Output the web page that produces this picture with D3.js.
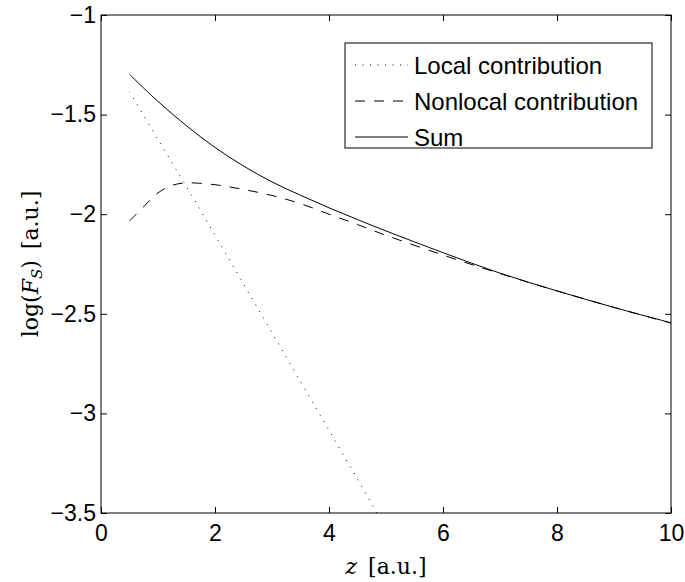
<!DOCTYPE html>
<html>
<head>
<meta charset="UTF-8">
<script src="https://d3js.org/d3.v7.min.js"></script>
<style>
  body { margin: 0; background: #fff; }
  .tick text { font-family: "Liberation Sans", Arial, sans-serif; font-size: 23px; }
  .math { font-family: "DejaVu Serif", "Liberation Serif", serif; font-size: 22px; }
  .legend text { font-family: "Liberation Sans", Arial, sans-serif; font-size: 24px; }
</style>
</head>
<body>
<svg id="chart" width="685" height="582"></svg>
<script>
// valeurs
const zLocal = [0.5, 1, 1.5, 2, 2.5, 3, 3.5, 4, 4.5, 4.85];
const local  = [-1.385, -1.625, -1.862, -2.105, -2.35, -2.595, -2.84, -3.085, -3.33, -3.505];

const zNonlocal = [0.5, 0.75, 1, 1.25, 1.5, 2, 2.5, 3, 3.5, 4, 4.5, 5, 6, 7, 8, 9, 10];
const nonlocal  = [-2.034, -1.962, -1.893, -1.855, -1.843, -1.852, -1.876, -1.906, -1.947, -2.0, -2.052, -2.106, -2.205, -2.298, -2.385, -2.468, -2.547];

const zSum = [0.5, 1, 1.5, 2, 2.5, 3, 3.5, 4, 4.5, 5, 6, 7, 8, 9, 10];
const sum  = [-1.298, -1.434, -1.556, -1.665, -1.758, -1.838, -1.905, -1.968, -2.027, -2.084, -2.193, -2.296, -2.385, -2.468, -2.545];

const xTicks = [0, 2, 4, 6, 8, 10];
const yTicks = [-1, -1.5, -2, -2.5, -3, -3.5];

const legendLabels = ["Local contribution", "Nonlocal contribution", "Sum"];
const legendDash = ["1,6.5", "10,9", null];

const mLeft = 101, mRight = 671, mTop = 15, mBottom = 513;

const svg = d3.select("#chart");
const x = d3.scaleLinear().domain([0, 10]).range([mLeft, mRight]);
const y = d3.scaleLinear().domain([-3.5, -1]).range([mBottom, mTop]);

svg.append("defs").append("clipPath").attr("id", "clip")
   .append("rect").attr("x", mLeft).attr("y", mTop)
   .attr("width", mRight - mLeft).attr("height", mBottom - mTop);

// axes (ticks vers l'intérieur)
const tickFmt = d => String(d).replace("-", "\u2212");
svg.append("g").attr("transform", `translate(0,${mBottom})`)
   .call(d3.axisBottom(x).tickValues(xTicks).tickSize(-6).tickPadding(10).tickFormat(tickFmt))
   .call(g => g.select(".domain").remove())
   .call(g => g.selectAll("text").attr("dy", "0.71em").attr("y", 12));
svg.append("g").attr("transform", `translate(${mLeft},0)`)
   .call(d3.axisLeft(y).tickValues(yTicks).tickSize(-6).tickPadding(5).tickFormat(tickFmt))
   .call(g => g.select(".domain").remove());
svg.append("g").attr("transform", `translate(0,${mTop})`)
   .call(d3.axisTop(x).tickValues(xTicks).tickSize(-6).tickFormat(""))
   .call(g => g.select(".domain").remove());
svg.append("g").attr("transform", `translate(${mRight},0)`)
   .call(d3.axisRight(y).tickValues(yTicks).tickSize(-6).tickFormat(""))
   .call(g => g.select(".domain").remove());
svg.selectAll(".tick line").attr("stroke", "#000");
svg.selectAll(".tick text").attr("fill", "#000");

svg.append("rect").attr("x", mLeft).attr("y", mTop)
   .attr("width", mRight - mLeft).attr("height", mBottom - mTop)
   .attr("fill", "none").attr("stroke", "#000").attr("stroke-width", 1);

// courbes
const line = d3.line().x(d => x(d[0])).y(d => y(d[1])).curve(d3.curveCatmullRom);
const series = [
  { z: zLocal, v: local, dash: legendDash[0] },
  { z: zNonlocal, v: nonlocal, dash: legendDash[1] },
  { z: zSum, v: sum, dash: legendDash[2] }
];
series.forEach(s => {
  svg.append("path")
     .datum(s.z.map((z, i) => [z, s.v[i]]))
     .attr("d", line)
     .attr("clip-path", "url(#clip)")
     .attr("fill", "none")
     .attr("stroke", "#000")
     .attr("stroke-width", 1)
     .attr("stroke-dasharray", s.dash);
});

// légende
const lg = svg.append("g").attr("class", "legend");
lg.append("rect").attr("x", 345).attr("y", 43).attr("width", 307).attr("height", 105)
  .attr("fill", "#fff").attr("stroke", "#000").attr("stroke-width", 1);
legendLabels.forEach((t, i) => {
  const yy = 65 + i * 36;
  lg.append("line").attr("x1", 355).attr("x2", 408).attr("y1", yy).attr("y2", yy)
    .attr("stroke", "#000").attr("stroke-width", 1).attr("stroke-dasharray", legendDash[i]);
  lg.append("text").attr("x", 414).attr("y", yy).attr("dy", "0.36em").text(t);
});

// titres des axes
const xl = svg.append("text").attr("class", "math")
   .attr("x", (mLeft + mRight) / 2).attr("y", 574).attr("text-anchor", "middle");
xl.append("tspan").attr("font-style", "italic").text("z");
xl.append("tspan").text("\u2002[a.u.]");

const yl = svg.append("text").attr("class", "math")
   .attr("transform", `translate(38,${(mTop + mBottom) / 2}) rotate(-90)`)
   .attr("text-anchor", "middle");
yl.append("tspan").text("log(");
yl.append("tspan").attr("font-style", "italic").text("F");
yl.append("tspan").attr("font-style", "italic").attr("font-size", "15px").attr("dy", 4).text("S");
yl.append("tspan").attr("dy", -4).text(")\u2002[a.u.]");
</script>
</body>
</html>
